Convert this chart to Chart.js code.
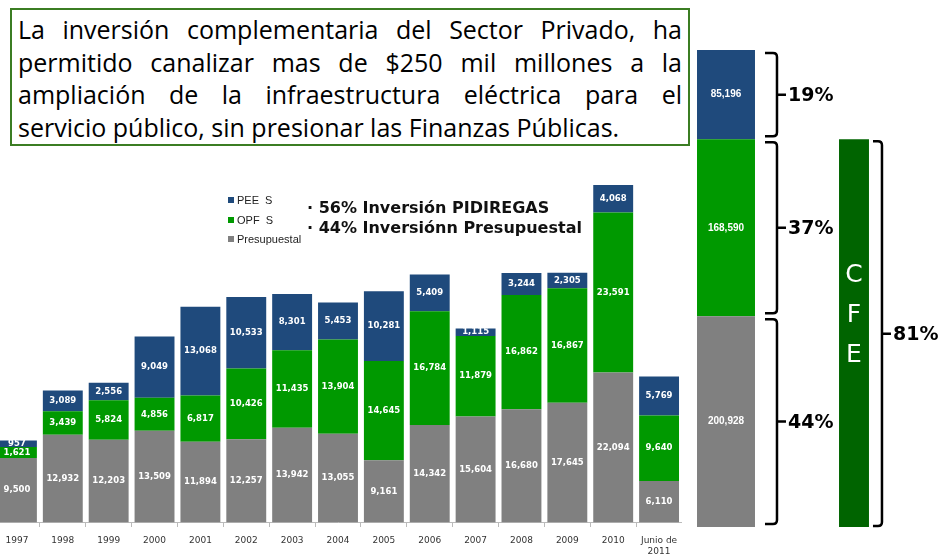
<!DOCTYPE html>
<html>
<head>
<meta charset="utf-8">
<script src="https://cdn.jsdelivr.net/npm/chart.js@4.4.1/dist/chart.umd.min.js"></script>
<style>
  body { margin: 0; width: 938px; height: 556px; background: #fff; position: relative; overflow: hidden; font-family: "Liberation Sans", Arial, sans-serif; }
  #note {
    position: absolute; left: 10px; top: 8px; width: 664px; height: 131px;
    border: 2px solid #3b7d23; padding: 3px 6px 0 6px;
    font-family: "Open Sans", sans-serif; font-size: 25px; line-height: 32.5px; color: #000;
  }
  #note div { white-space: nowrap; }
  #note div.j { text-align: justify; text-align-last: justify; white-space: normal; }
  #mainChart { position: absolute; left: -6px; top: 168px; }
  #totalChart { position: absolute; left: 662px; top: 0; }
  #legend { position: absolute; left: 228px; top: 191px; font-size: 11px; color: #222; }
  #legend div { height: 19.5px; line-height: 19.5px; }
  #legend span { display: inline-block; width: 6px; height: 6px; margin-right: 3px; vertical-align: 1px; }
  #bullets { position: absolute; left: 307px; top: 198px; font: bold 16px "DejaVu Sans", Verdana, sans-serif; line-height: 19.5px; color: #111; }
</style>
</head>
<body>
<div id="note">
  <div class="j">La inversión complementaria del Sector Privado, ha</div>
  <div class="j">permitido canalizar mas de $250 mil millones a la</div>
  <div class="j">ampliación de la infraestructura eléctrica para el</div>
  <div>servicio público, sin presionar las Finanzas Públicas.</div>
</div>
<canvas id="mainChart" width="688" height="393"></canvas>
<canvas id="totalChart" width="276" height="556"></canvas>
<div id="legend"></div>
<div id="bullets">· 56% Inversión PIDIREGAS<br>· 44% Inversiónn Presupuestal</div>
<script>
// yearly investment by source
const years = ["1997", "1998", "1999", "2000", "2001", "2002", "2003", "2004", "2005", "2006", "2007", "2008", "2009", "2010", ["Junio de", "2011"]];
const presupuestal = [9500, 12932, 12203, 13509, 11894, 12257, 13942, 13055, 9161, 14342, 15604, 16680, 17645, 22094, 6110];
const opfs = [1621, 3439, 5824, 4856, 6817, 10426, 11435, 13904, 14645, 16784, 11879, 16862, 16867, 23591, 9640];
const pees = [957, 3089, 2556, 9049, 13068, 10533, 8301, 5453, 10281, 5409, 1115, 3244, 2305, 4068, 5769];

// accumulated totals (right bar)
const totalPres = 200928;
const totalOpf = 168590;
const totalPee = 85196;
const shareLabels = ["19%", "37%", "44%"]; // PEE, OPF, Presupuestal
const cfeShare = "81%";
const cfeLetters = ["C", "F", "E"];

const blue = "#1f4a7c";
const green = "#009900";
const gray = "#808080";
const darkGreen = "#006400";

// value labels in the middle of each segment
function valueLabels(font) {
  return {
    id: "valueLabels",
    afterDatasetsDraw(chart) {
      const ctx = chart.ctx;
      ctx.save();
      ctx.font = font;
      ctx.fillStyle = "#fff";
      ctx.textAlign = "center";
      ctx.textBaseline = "middle";
      chart.data.datasets.forEach((ds, i) => {
        if (ds.noLabels) return;
        chart.getDatasetMeta(i).data.forEach((bar, j) => {
          const v = ds.data[j];
          if (v == null) return;
          ctx.fillText(v.toLocaleString("en-US"), bar.x, (bar.y + bar.base) / 2);
        });
      });
      ctx.restore();
    }
  };
}

// legend (top of stack first)
const legend = document.getElementById("legend");
[["PEE  S", blue], ["OPF  S", green], ["Presupuestal", gray]].forEach(([t, c]) => {
  const d = document.createElement("div");
  d.innerHTML = '<span style="background:' + c + '"></span>' + t.replace(/ /g, "&nbsp;");
  legend.appendChild(d);
});

new Chart(document.getElementById("mainChart"), {
  type: "bar",
  data: {
    labels: years,
    datasets: [
      { label: "Presupuestal", data: presupuestal, backgroundColor: gray },
      { label: "OPF S", data: opfs, backgroundColor: green },
      { label: "PEE S", data: pees, backgroundColor: blue }
    ]
  },
  options: {
    responsive: false,
    animation: false,
    devicePixelRatio: 1,
    categoryPercentage: 1,
    barPercentage: 0.87,
    layout: { padding: 0 },
    scales: {
      x: {
        stacked: true,
        // long tick space, but only a short visible mark below the axis
        grid: { display: true, drawOnChartArea: false, offset: true, tickLength: 9, tickBorderDash: [4, 40], color: "#bbb" },
        border: { display: true, color: "#bbb" },
        ticks: { font: { size: 9, family: "'DejaVu Sans', Verdana, sans-serif" }, color: "#333", maxRotation: 0, autoSkip: false, padding: 4 }
      },
      y: { stacked: true, display: false, min: 0, max: 52250 }
    },
    plugins: { legend: { display: false }, tooltip: { enabled: false } }
  },
  plugins: [valueLabels("bold 8.5px 'DejaVu Sans', Verdana, sans-serif")]
});

// brackets with percentages beside the total bar and the CFE bar
const bracketPlugin = {
  id: "brackets",
  afterDatasetsDraw(chart) {
    const ctx = chart.ctx;
    ctx.save();
    ctx.strokeStyle = "#000";
    ctx.lineWidth = 2.5;
    ctx.fillStyle = "#000";
    ctx.font = "bold 19px 'DejaVu Sans', Verdana, sans-serif";
    ctx.textBaseline = "middle";
    function bracket(x, w, top, bottom, text) {
      const r = 4, mid = (top + bottom) / 2;
      ctx.beginPath();
      ctx.moveTo(x, top);
      ctx.lineTo(x + w - r, top);
      ctx.quadraticCurveTo(x + w, top, x + w, top + r);
      ctx.lineTo(x + w, bottom - r);
      ctx.quadraticCurveTo(x + w, bottom, x + w - r, bottom);
      ctx.lineTo(x, bottom);
      ctx.moveTo(x + w, mid);
      ctx.lineTo(x + w + 9, mid);
      ctx.stroke();
      ctx.textAlign = "left";
      ctx.fillText(text, x + w + 11, mid + 1);
    }
    // segments: dataset 2 = PEE, 1 = OPF, 0 = Presupuestal
    [2, 1, 0].forEach((di, k) => {
      const bar = chart.getDatasetMeta(di).data[0];
      bracket(bar.x + bar.width / 2 + 10, 12, bar.y + 3, bar.base - 3, shareLabels[k]);
    });
    const cfe = chart.getDatasetMeta(3).data[1];
    bracket(cfe.x + cfe.width / 2 + 4, 9, cfe.y + 2, cfe.base - 1, cfeShare);
    // letters inside CFE bar
    ctx.fillStyle = "#fff";
    ctx.font = "25px 'DejaVu Sans', Verdana, sans-serif";
    ctx.textAlign = "center";
    const cy = (cfe.y + cfe.base) / 2;
    cfeLetters.forEach((l, i) => ctx.fillText(l, cfe.x, cy - 58 + i * 40));
    ctx.restore();
  }
};

new Chart(document.getElementById("totalChart"), {
  type: "bar",
  data: {
    labels: ["Total", "CFE"],
    datasets: [
      { label: "Presupuestal", data: [totalPres, null], backgroundColor: gray, barPercentage: 0.453 },
      { label: "OPF S", data: [totalOpf, null], backgroundColor: green, barPercentage: 0.453 },
      { label: "PEE S", data: [totalPee, null], backgroundColor: blue, barPercentage: 0.453 },
      { label: "CFE", data: [null, totalPres + totalOpf], backgroundColor: darkGreen, barPercentage: 0.234, noLabels: true }
    ]
  },
  options: {
    responsive: false,
    animation: false,
    devicePixelRatio: 1,
    categoryPercentage: 1,
    layout: { padding: { top: 50, bottom: 29, left: 0, right: 20 } },
    scales: {
      x: { stacked: true, display: false },
      y: { stacked: true, display: false, min: 0, max: totalPres + totalOpf + totalPee }
    },
    plugins: { legend: { display: false }, tooltip: { enabled: false } }
  },
  plugins: [valueLabels("bold 10px 'Liberation Sans Narrow', 'Arial Narrow', sans-serif"), bracketPlugin]
});
</script>
</body>
</html>
